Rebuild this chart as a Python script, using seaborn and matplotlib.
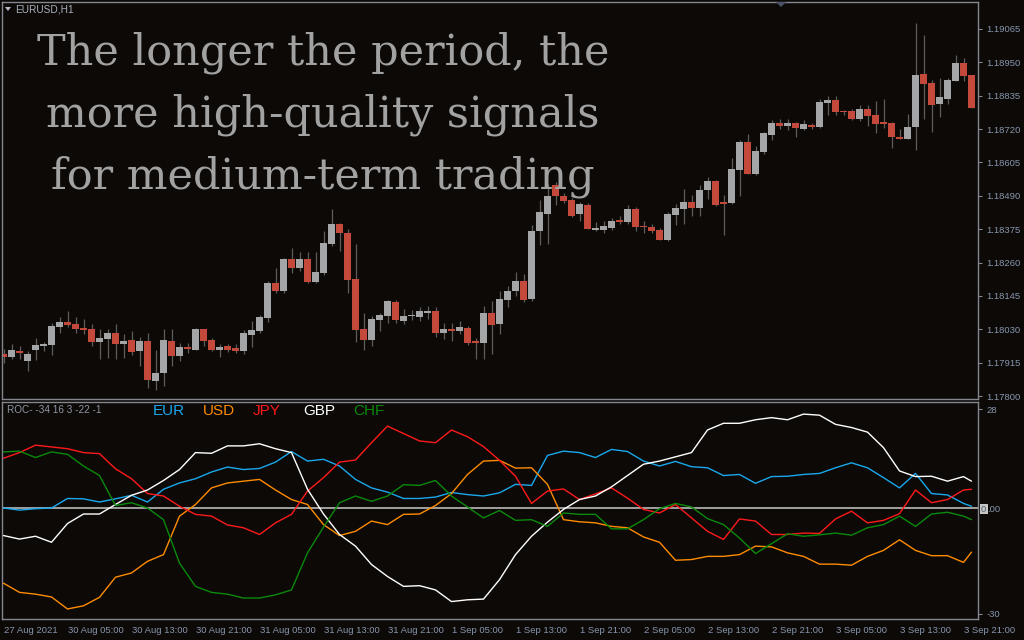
import numpy as np
import pandas as pd
import matplotlib
matplotlib.use("Agg")
import matplotlib.pyplot as plt
from matplotlib.patches import Rectangle, Polygon
import seaborn as sns

# EURUSD H1 candles (bar 0 = 27 Aug 21:00)
opens = [1.17945, 1.17934, 1.17955, 1.17921, 1.17959, 1.17972, 1.17976, 1.18038, 1.18055, 1.18048,
         1.18034, 1.18031, 1.17986, 1.17996, 1.18017, 1.17979, 1.17993, 1.17955, 1.17990, 1.17852,
         1.17879, 1.17990, 1.17938, 1.17969, 1.17959, 1.18031, 1.17993, 1.17959, 1.17972, 1.17965,
         1.17955, 1.18010, 1.18024, 1.18069, 1.18190, 1.18162, 1.18272, 1.18241, 1.18272, 1.18193,
         1.18224, 1.18324, 1.18393, 1.18362, 1.18203, 1.18031, 1.17993, 1.18062, 1.18076, 1.18124,
         1.18059, 1.18076, 1.18072, 1.18086, 1.18093, 1.18017, 1.18031, 1.18024, 1.18034, 1.17990,
         1.17983, 1.18086, 1.18048, 1.18131, 1.18162, 1.18196, 1.18134, 1.18369, 1.18427, 1.18527,
         1.18489, 1.18476, 1.18427, 1.18458, 1.18372, 1.18372, 1.18379, 1.18407, 1.18400, 1.18445,
         1.18386, 1.18383, 1.18372, 1.18338, 1.18424, 1.18445, 1.18469, 1.18448, 1.18510, 1.18541,
         1.18469, 1.18465, 1.18579, 1.18676, 1.18565, 1.18641, 1.18700, 1.18741, 1.18731, 1.18741,
         1.18720, 1.18734, 1.18727, 1.18810, 1.18820, 1.18782, 1.18782, 1.18755, 1.18789, 1.18769,
         1.18744, 1.18741, 1.18693, 1.18686, 1.18727, 1.18910, 1.18879, 1.18807, 1.18824, 1.18886,
         1.18948, 1.18906]
highs = [1.17962, 1.17979, 1.17972, 1.17955, 1.18000, 1.17986, 1.18052, 1.18072, 1.18093, 1.18072,
         1.18065, 1.18048, 1.18031, 1.18031, 1.18048, 1.18014, 1.18024, 1.18003, 1.18017, 1.17959,
         1.18031, 1.18031, 1.17983, 1.17983, 1.18034, 1.18031, 1.18000, 1.17979, 1.17979, 1.17979,
         1.18028, 1.18059, 1.18079, 1.18196, 1.18241, 1.18276, 1.18310, 1.18296, 1.18296, 1.18296,
         1.18369, 1.18445, 1.18396, 1.18376, 1.18324, 1.18086, 1.18076, 1.18086, 1.18131, 1.18131,
         1.18100, 1.18096, 1.18107, 1.18110, 1.18107, 1.18052, 1.18052, 1.18059, 1.18041, 1.18000,
         1.18110, 1.18127, 1.18162, 1.18179, 1.18227, 1.18221, 1.18389, 1.18476, 1.18531, 1.18538,
         1.18500, 1.18483, 1.18469, 1.18465, 1.18400, 1.18403, 1.18414, 1.18420, 1.18458, 1.18452,
         1.18403, 1.18393, 1.18379, 1.18434, 1.18462, 1.18514, 1.18493, 1.18527, 1.18555, 1.18545,
         1.18493, 1.18620, 1.18682, 1.18703, 1.18662, 1.18710, 1.18751, 1.18755, 1.18755, 1.18745,
         1.18751, 1.18741, 1.18824, 1.18834, 1.18834, 1.18786, 1.18789, 1.18803, 1.18803, 1.18817,
         1.18824, 1.18745, 1.18720, 1.18772, 1.19086, 1.19044, 1.18889, 1.18896, 1.18896, 1.18975,
         1.18965, 1.18906]
lows = [1.17914, 1.17928, 1.17928, 1.17886, 1.17924, 1.17955, 1.17941, 1.18017, 1.18038, 1.18017,
        1.18014, 1.17972, 1.17928, 1.17931, 1.17928, 1.17931, 1.17941, 1.17903, 1.17828, 1.17821,
        1.17834, 1.17903, 1.17921, 1.17948, 1.17959, 1.17972, 1.17955, 1.17934, 1.17952, 1.17948,
        1.17945, 1.17969, 1.18017, 1.18055, 1.18155, 1.18155, 1.18224, 1.18231, 1.18190, 1.18190,
        1.18217, 1.18317, 1.18300, 1.18155, 1.17986, 1.17959, 1.17972, 1.18024, 1.18052, 1.18052,
        1.18048, 1.18062, 1.18059, 1.18065, 1.18003, 1.17996, 1.17990, 1.18014, 1.17976, 1.17928,
        1.17928, 1.17945, 1.18014, 1.18107, 1.18145, 1.18124, 1.18127, 1.18321, 1.18324, 1.18458,
        1.18465, 1.18417, 1.18403, 1.18376, 1.18369, 1.18362, 1.18372, 1.18393, 1.18393, 1.18369,
        1.18362, 1.18362, 1.18338, 1.18334, 1.18389, 1.18393, 1.18420, 1.18420, 1.18479, 1.18455,
        1.18355, 1.18462, 1.18489, 1.18565, 1.18562, 1.18634, 1.18682, 1.18720, 1.18717, 1.18693,
        1.18717, 1.18720, 1.18724, 1.18769, 1.18769, 1.18769, 1.18751, 1.18748, 1.18731, 1.18707,
        1.18724, 1.18655, 1.18686, 1.18686, 1.18648, 1.18755, 1.18710, 1.18762, 1.18807, 1.18886,
        1.18886, 1.18793]
closes = [1.17934, 1.17959, 1.17948, 1.17945, 1.17976, 1.17979, 1.18041, 1.18055, 1.18045, 1.18031,
          1.18028, 1.17986, 1.18000, 1.18017, 1.17979, 1.17990, 1.17952, 1.17990, 1.17855, 1.17879,
          1.17993, 1.17938, 1.17969, 1.17962, 1.18031, 1.17990, 1.17959, 1.17969, 1.17959, 1.17955,
          1.18017, 1.18028, 1.18072, 1.18190, 1.18162, 1.18272, 1.18241, 1.18272, 1.18193, 1.18227,
          1.18327, 1.18393, 1.18362, 1.18200, 1.18028, 1.17993, 1.18065, 1.18079, 1.18127, 1.18062,
          1.18076, 1.18079, 1.18093, 1.18093, 1.18017, 1.18031, 1.18024, 1.18038, 1.17983, 1.17983,
          1.18086, 1.18045, 1.18134, 1.18162, 1.18196, 1.18131, 1.18369, 1.18434, 1.18489, 1.18489,
          1.18472, 1.18420, 1.18462, 1.18376, 1.18379, 1.18386, 1.18403, 1.18400, 1.18445, 1.18383,
          1.18383, 1.18369, 1.18338, 1.18427, 1.18448, 1.18469, 1.18448, 1.18510, 1.18541, 1.18458,
          1.18462, 1.18582, 1.18676, 1.18565, 1.18645, 1.18707, 1.18741, 1.18731, 1.18741, 1.18724,
          1.18738, 1.18727, 1.18813, 1.18820, 1.18779, 1.18779, 1.18755, 1.18789, 1.18765, 1.18738,
          1.18738, 1.18693, 1.18686, 1.18727, 1.18906, 1.18875, 1.18803, 1.18831, 1.18889, 1.18948,
          1.18903, 1.18793]

price_ticks = [1.17800, 1.17915, 1.18030, 1.18145, 1.18260, 1.18375,
               1.18490, 1.18605, 1.18720, 1.18835, 1.18950, 1.19065]
time_label_bars = [0, 8, 16, 24, 32, 40, 48, 56, 64, 72, 80, 88, 96, 104, 112, 120]
time_labels = ["27 Aug 2021", "30 Aug 05:00", "30 Aug 13:00", "30 Aug 21:00",
               "31 Aug 05:00", "31 Aug 13:00", "31 Aug 21:00", "1 Sep 05:00",
               "1 Sep 13:00", "1 Sep 21:00", "2 Sep 05:00", "2 Sep 13:00",
               "2 Sep 21:00", "3 Sep 05:00", "3 Sep 13:00", "3 Sep 21:00"]

# ROC currency strength, sampled every second bar
roc_bars = [0, 2, 4, 6, 8, 10, 12, 14, 16, 18, 20, 22, 24, 26, 28, 30, 32, 34, 36, 38,
            40, 42, 44, 46, 48, 50, 52, 54, 56, 58, 60, 62, 64, 66, 68, 70, 72, 74, 76, 78,
            80, 82, 84, 86, 88, 90, 92, 94, 96, 98, 100, 102, 104, 106, 108, 110, 112, 114,
            116, 118, 120, 121]
eur = [0.0, -0.6, -0.2, 0.0, 2.7, 2.6, 1.7, 2.6, 3.6, 1.7, 5.3, 7.1, 8.3, 10.2, 11.6, 10.9,
       11.2, 13.0, 16.0, 13.3, 13.8, 11.9, 8.1, 5.7, 4.5, 2.7, 2.7, 3.1, 4.4, 3.8, 3.4, 4.3,
       6.7, 6.4, 14.9, 16.1, 15.7, 14.3, 16.6, 16.0, 13.3, 11.9, 13.2, 11.7, 11.4, 9.2, 9.5,
       7.0, 8.9, 9.0, 9.5, 9.8, 11.4, 12.8, 11.4, 8.6, 5.7, 9.8, 4.1, 3.7, 1.3, 0.5]
usd = [-21.3, -23.9, -24.4, -25.2, -28.6, -27.7, -25.3, -19.6, -18.4, -15.1, -13.2, -2.3,
       1.0, 5.7, 7.1, 7.6, 8.1, 5.1, 2.4, 1.0, -4.7, -7.8, -6.6, -3.7, -4.7, -1.8, -1.7, 0.7,
       4.1, 9.5, 13.3, 13.5, 11.3, 11.4, 6.7, -3.3, -3.9, -4.2, -5.2, -5.6, -8.2, -9.7, -14.8,
       -14.6, -13.7, -13.7, -13.2, -10.8, -11.0, -12.7, -13.7, -15.9, -15.9, -16.2, -13.7,
       -12.0, -9.0, -12.0, -13.5, -13.5, -15.4, -12.5]
jpy = [14.1, 15.7, 17.8, 17.3, 16.8, 15.7, 15.4, 11.1, 8.3, 4.1, 3.4, 0.5, -1.8, -2.3, -4.8,
       -5.6, -7.5, -4.2, -1.8, 4.8, 8.6, 13.0, 13.6, 18.5, 23.2, 21.1, 19.0, 18.5, 22.1, 20.2,
       17.4, 13.5, 9.0, 1.3, 4.8, 5.4, 2.4, 4.0, 5.7, 2.8, -0.4, -1.4, 1.0, -2.8, -6.6, -8.9,
       -3.1, -3.7, -7.5, -7.5, -7.1, -7.2, -3.1, -0.9, -4.2, -3.5, -1.6, 5.1, 1.5, 2.4, 5.1, 5.3]
gbp = [-7.8, -8.8, -8.0, -9.7, -4.4, -1.7, -1.7, 1.0, 3.6, 5.1, 7.8, 10.9, 15.7, 15.5, 17.6,
       17.6, 18.2, 16.8, 15.7, 5.3, -1.7, -7.5, -10.8, -16.0, -19.4, -22.2, -22.0, -23.2,
       -26.5, -26.0, -25.8, -20.3, -13.2, -8.0, -4.0, -0.4, 2.4, 3.4, 6.0, 9.2, 12.4, 13.3,
       14.5, 15.7, 22.1, 24.0, 24.0, 25.0, 25.6, 25.0, 26.6, 26.3, 23.7, 22.8, 21.5, 17.1,
       10.5, 8.9, 9.0, 7.6, 8.9, 7.6]
chf = [15.9, 16.1, 14.3, 15.9, 15.2, 11.9, 9.2, 0.7, 1.5, 0.0, -3.3, -15.6, -22.2, -23.9,
       -24.4, -25.5, -25.5, -24.6, -23.2, -12.7, -5.4, 1.5, 3.4, 1.9, 3.4, 6.6, 6.4, 7.8, 3.4,
       0.3, -2.8, -0.7, -3.5, -3.3, -5.2, -1.4, -1.8, -1.8, -5.9, -5.9, -3.3, -0.2, 1.3, 0.3,
       -3.0, -4.7, -8.5, -12.9, -10.1, -7.3, -8.0, -7.6, -7.1, -7.7, -5.6, -4.7, -2.3, -5.2,
       -1.7, -1.2, -2.3, -3.3]
currencies = ["EUR", "USD", "JPY", "GBP", "CHF"]
line_colors = {"EUR": "#1aa8ec", "USD": "#ff8c00", "JPY": "#ff1a1a", "GBP": "#ffffff", "CHF": "#0a8a0a"}

BG = "#0c0907"
FRAME = "#85878f"
LABEL = "#8796ad"
W, H = 1024, 640

sns.set_style("dark", {"axes.facecolor": BG, "figure.facecolor": BG})
plt.rcParams["font.family"] = ["Liberation Sans", "DejaVu Sans"]


def fx(px):
    return px / W


def fy(py):
    return 1 - py / H


fig = plt.figure(figsize=(W / 100, H / 100), dpi=100, facecolor=BG)
ax = fig.add_axes([fx(2), fy(399), (978 - 2) / W, (399 - 2) / H])
ax2 = fig.add_axes([fx(2), fy(619), (978 - 2) / W, (619 - 402) / H])

for a in (ax, ax2):
    a.set_facecolor(BG)
    for s in a.spines.values():
        s.set_color(FRAME)
        s.set_linewidth(1.0)
    a.grid(False)

# candles
o = np.array(opens)
c = np.array(closes)
x = np.arange(len(o))
bull = c >= o
body_lo = np.minimum(o, c)
body_h = np.maximum(np.abs(c - o), 0.00003)
ax.vlines(x, lows, highs, color="#5d5d5d", linewidth=0.9, zorder=1)
ax.bar(x, body_h, bottom=body_lo, width=0.84,
       color=np.where(bull, "#a4a5a7", "#c5493a"), edgecolor="none", zorder=2)

ax.set_xlim((2 - 3.5) / 8, (978 - 3.5) / 8)
ax.set_ylim(1.17790, 1.19158)
ax.set_xticks([])
ax.yaxis.tick_right()
ax.set_yticks(price_ticks)
ax.set_yticklabels([f"{p:.5f}" for p in price_ticks])
ax.tick_params(axis="y", colors=FRAME, labelcolor=LABEL, labelsize=6.8, length=3, width=0.8, pad=3)
ax.set_ylabel("")
ax.set_xlabel("")

# ROC panel
roc = pd.DataFrame({
    "bar": roc_bars * 5,
    "roc": eur + usd + jpy + gbp + chf,
    "currency": [cur for cur in currencies for _ in roc_bars],
})
ax2.axhline(0, color="#c9c9c9", linewidth=1.1, zorder=1)
sns.lineplot(data=roc, x="bar", y="roc", hue="currency", palette=line_colors,
             estimator=None, sort=False, legend=False, linewidth=1.0, ax=ax2, zorder=3)
ax2.set_xlim((2 - 3.5) / 8, (978 - 3.5) / 8)
ax2.set_ylim(-31.44, 30.03)
ax2.set_xlabel("")
ax2.set_ylabel("")
ax2.yaxis.tick_right()
ax2.set_yticks([28, -30])
ax2.set_yticklabels(["28", "-30"])
ax2.tick_params(axis="y", colors=FRAME, labelcolor=LABEL, labelsize=6.8, length=3, width=0.8, pad=3)
ax2.set_xticks(time_label_bars)
ax2.set_xticklabels(time_labels)
ax2.tick_params(axis="x", colors=FRAME, labelcolor=LABEL, labelsize=6.8, length=3, width=0.8, pad=2)
for lab in ax2.get_xticklabels():
    lab.set_horizontalalignment("left")

# zero level label: highlighted first digit box, then the value
fig.patches.append(Rectangle((fx(980), fy(514)), 8 / W, 10 / H, transform=fig.transFigure,
                             facecolor="#c6c6c6", edgecolor="none", zorder=1))
fig.text(fx(981), fy(509), "0", color="#4f5a6e", fontsize=6.8, va="center", ha="left", zorder=5)
fig.text(fx(987), fy(509), ".00", color=LABEL, fontsize=6.8, va="center", ha="left", zorder=5)

# header
fig.patches.append(Polygon([[fx(5), fy(7)], [fx(11), fy(7)], [fx(8), fy(11)]], closed=True,
                           transform=fig.transFigure, facecolor="#b8bcc6", edgecolor="none"))
fig.text(fx(15), fy(10), "EURUSD,H1", color="#a9b0bd", fontsize=7.3, va="center", ha="left")
fig.patches.append(Polygon([[fx(776), fy(2)], [fx(786), fy(2)], [fx(781), fy(7)]], closed=True,
                           transform=fig.transFigure, facecolor="#4b5268", edgecolor="none"))

# indicator labels
fig.text(fx(7), fy(410), "ROC- -34 16 3 -22 -1", color="#8f96a3", fontsize=7.2, va="center", ha="left")
label_x = [153, 203, 253, 303, 353]
for cur, lx in zip(currencies, label_x):
    fig.text(fx(lx), fy(411), cur, color=line_colors[cur], fontsize=11, va="center", ha="left")

# overlay caption
caption = ["The longer the period, the", "more high-quality signals", "for medium-term trading"]
for line, base in zip(caption, [64, 127, 189]):
    fig.text(fx(323), fy(base), line, color="#a2a2a2", fontsize=31, ha="center", va="baseline",
             family=["DejaVu Serif"])

fig.savefig("out.png", dpi=100, facecolor=BG)
